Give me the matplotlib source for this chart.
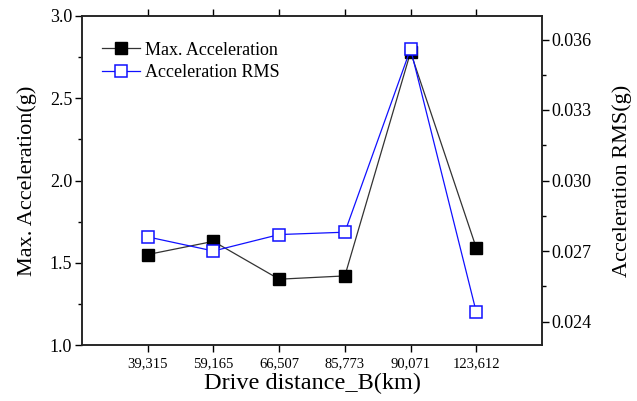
import numpy as np
import matplotlib.pyplot as plt
from matplotlib.ticker import MultipleLocator

plt.rcParams['font.family'] = ['Liberation Serif', 'DejaVu Serif']

# Data
distances = ['39,315', '59,165', '66,507', '85,773', '90,071', '123,612']
max_acc = [1.55, 1.63, 1.40, 1.42, 2.78, 1.59]
acc_rms = [0.0276, 0.0270, 0.0277, 0.0278, 0.0356, 0.0244]

x = np.arange(1, len(distances) + 1)

fig = plt.figure(figsize=(6.37, 4.01), dpi=100)
ax1 = fig.add_axes([82 / 637, 56 / 401, 460 / 637, 329 / 401])
ax2 = ax1.twinx()

l1, = ax1.plot(x, max_acc, color='#333333', lw=0.9, marker='s', ms=8,
               mfc='black', mec='black', label='Max. Acceleration')
l2, = ax2.plot(x, acc_rms, color='#1010ff', lw=0.9, marker='s', ms=8,
               mfc='white', mec='#1010ff', mew=1.1, label='Acceleration RMS')

ax1.set_xlim(0, 7)
ax1.set_ylim(1.0, 3.0)
ax2.set_ylim(0.023, 0.037)
ax1.set_xticks(x)
ax1.set_xticklabels(distances, fontsize=10.5)
ax1.yaxis.set_major_locator(MultipleLocator(0.5))
ax1.yaxis.set_minor_locator(MultipleLocator(0.25))
ax2.yaxis.set_minor_locator(MultipleLocator(0.0015))
ax2.set_yticks([0.024, 0.027, 0.030, 0.033, 0.036])
ax2.set_yticklabels(['0.024', '0.027', '0.030', '0.033', '0.036'])

ax1.tick_params(axis='y', labelsize=13, direction='out', length=5, width=1, pad=2)
ax1.tick_params(axis='y', which='minor', direction='out', length=3, width=1)
ax1.tick_params(axis='x', direction='out', length=5, width=1, top=True, pad=4)
ax2.tick_params(axis='y', labelsize=13, direction='out', length=5, width=1, pad=2)
ax2.tick_params(axis='y', which='minor', direction='out', length=3, width=1)

for ax in (ax1, ax2):
    for s in ax.spines.values():
        s.set_linewidth(1.1)
        s.set_color('#222222')

ax1.set_xlabel('Drive distance_B(km)', fontsize=17.5, labelpad=2)
ax1.set_ylabel('Max. Acceleration(g)', fontsize=16, labelpad=9)
ax2.set_ylabel('Acceleration RMS(g)', fontsize=16, labelpad=15)

ax2.legend([l1, l2], ['Max. Acceleration', 'Acceleration RMS'], loc='upper left',
           frameon=False, fontsize=13, bbox_to_anchor=(0.02, 0.955),
           handlelength=2.1, handletextpad=0.3, labelspacing=0.3, borderaxespad=0.2)

fig.savefig('out.png', dpi=100)
